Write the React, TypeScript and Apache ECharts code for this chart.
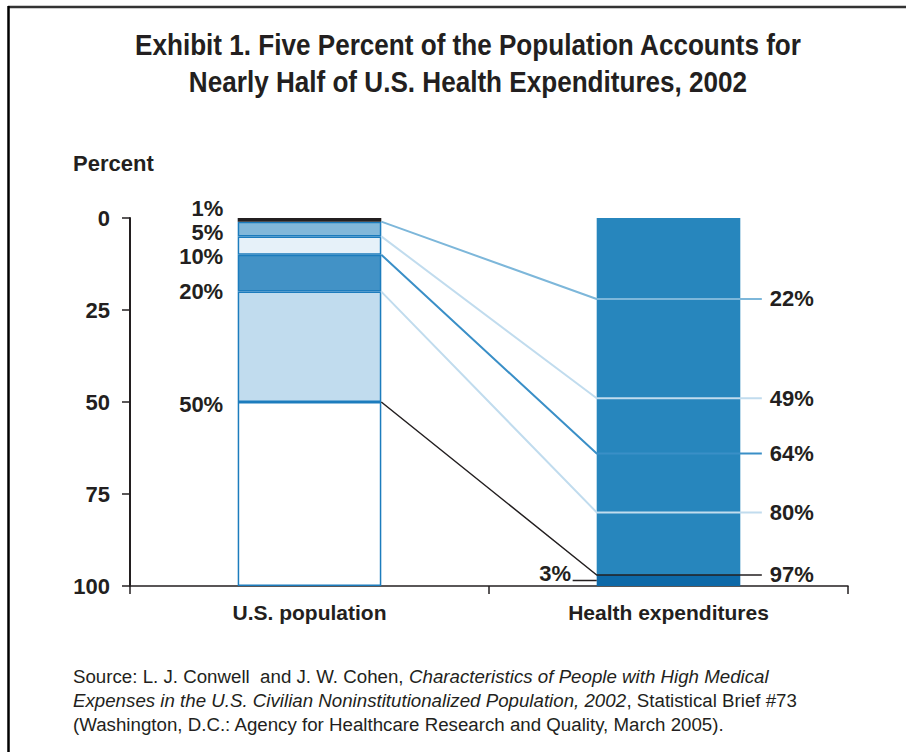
import React, { useEffect, useRef } from "react";
import * as echarts from "echarts";

// ---- data ----
const categories = ["U.S. population", "Health expenditures"];
const yTickValues = [0, 25, 50, 75, 100];
// cumulative population share boundaries (top of bar = 0)
const popBoundaries = [0, 1, 5, 10, 20, 50, 100];
const popBoundaryLabels = ["1%", "5%", "10%", "20%", "50%"];
// cumulative expenditure share reached by each population group
const expBoundaries = [22, 49, 64, 80, 97];
const expBoundaryLabels = ["22%", "49%", "64%", "80%", "97%"];
// expenditure bar segments
const expSegments = [97, 3];
const expSmallLabel = "3%";

const TITLE_LINES = [
  "Exhibit 1. Five Percent of the Population Accounts for",
  "Nearly Half of U.S. Health Expenditures, 2002",
];

// ---- styles ----
const INK = "#231f20";
const FONT = "'Liberation Sans', Arial, sans-serif";
const popColors = ["#231f20", "#82b8da", "#e6f1f9", "#4292c6", "#c1dcee", "#ffffff"];
const popBorder = "#1c7cbd";
const expColors = ["#2786bd", "#0d69a8"];
const connectorColors = ["#7db7da", "#c1dcee", "#3a8fc7", "#c1dcee", "#231f20"];
const connectorWidths = [2, 2, 2, 2, 1.5];
const BAR_FRAC = 0.4; // bar width as a fraction of the category band
const LABEL_LINE_EXT = 0.06; // extension of lines to the right of the right bar (in band units)
const popLabelOffsets = [-13, -4, 2, 0, 2];

export default function App() {
  const ref = useRef<HTMLDivElement>(null);

  useEffect(() => {
    if (!ref.current) return;
    const chart = echarts.init(ref.current, null, { renderer: "svg" });

    const leftEdge0 = 0.5 - BAR_FRAC / 2;
    const rightEdge0 = 0.5 + BAR_FRAC / 2;
    const leftEdge1 = 1.5 - BAR_FRAC / 2;
    const rightEdge1 = 1.5 + BAR_FRAC / 2;

    const popSegments = popBoundaries.slice(1).map((b, i) => b - popBoundaries[i]);

    const series: any[] = [];
    popSegments.forEach((v, i) => {
      series.push({
        type: "bar",
        stack: "all",
        barWidth: BAR_FRAC * 100 + "%",
        data: [v, "-"],
        itemStyle: {
          color: popColors[i],
          borderColor: i === 0 ? INK : popBorder,
          borderWidth: i === 0 ? 0 : 1.5,
        },
        z: i === 0 ? 3 : 2,
      });
    });
    expSegments.forEach((v, i) => {
      series.push({
        type: "bar",
        stack: "all",
        barWidth: BAR_FRAC * 100 + "%",
        data: ["-", v],
        itemStyle: { color: expColors[i], borderWidth: 0 },
      });
    });

    expBoundaries.forEach((e, i) => {
      series.push({
        type: "line",
        xAxisIndex: 1,
        yAxisIndex: 0,
        symbol: "none",
        z: 5,
        lineStyle: { color: connectorColors[i], width: connectorWidths[i] },
        data: [
          [rightEdge0, popBoundaries[i + 1]],
          [leftEdge1, e],
          [rightEdge1 + LABEL_LINE_EXT, e],
        ],
        endLabel: {
          show: true,
          formatter: expBoundaryLabels[i],
          distance: 8,
          color: INK,
          fontFamily: FONT,
          fontWeight: "bold",
          fontSize: 22,
        },
      });
    });

    const smallMid = expBoundaries[expBoundaries.length - 1] + expSegments[1] / 2;
    series.push({
      type: "line",
      xAxisIndex: 1,
      yAxisIndex: 0,
      symbol: "none",
      z: 5,
      lineStyle: { color: INK, width: 1.5 },
      data: [
        [leftEdge1 - 0.067, smallMid],
        [leftEdge1, smallMid],
      ],
    });

    series.push({
      type: "scatter",
      xAxisIndex: 1,
      yAxisIndex: 0,
      symbolSize: 1,
      itemStyle: { color: "rgba(0,0,0,0)", opacity: 1 },
      z: 6,
      data: [
        ...popBoundaryLabels.map((t, i) => ({
          value: [leftEdge0, popBoundaries[i + 1]],
          label: { formatter: t, offset: [0, popLabelOffsets[i]] },
        })),
        {
          value: [leftEdge1 - 0.067, smallMid],
          label: { formatter: expSmallLabel, offset: [0, -7], distance: 1 },
        },
      ],
      label: {
        show: true,
        position: "left",
        distance: 14,
        color: INK,
        fontFamily: FONT,
        fontWeight: "bold",
        fontSize: 22,
      },
    });

    const srcStyle = { fontFamily: FONT, fontSize: 19, fill: INK };

    chart.setOption({
      animation: false,
      grid: { left: 130, right: 58, top: 218, bottom: 166, containLabel: false },
      xAxis: [
        {
          type: "category",
          position: "bottom",
          data: categories,
          axisLine: { onZero: false, lineStyle: { color: INK, width: 1.5 } },
          axisTick: { show: true, length: 8, lineStyle: { color: INK, width: 1.5 } },
          axisLabel: {
            color: INK,
            fontFamily: FONT,
            fontWeight: "bold",
            fontSize: 21,
            margin: 16,
          },
        },
        { type: "value", min: 0, max: 2, show: false },
      ],
      yAxis: {
        type: "value",
        inverse: true,
        min: yTickValues[0],
        max: yTickValues[yTickValues.length - 1],
        interval: yTickValues[1] - yTickValues[0],
        axisLine: { show: true, lineStyle: { color: INK, width: 2 } },
        axisTick: { show: true, length: 8, lineStyle: { color: INK, width: 1.5 } },
        splitLine: { show: false },
        axisLabel: {
          color: INK,
          fontFamily: FONT,
          fontWeight: "bold",
          fontSize: 22,
          margin: 20,
        },
      },
      graphic: [
        { type: "line", shape: { x1: 8, y1: 7, x2: 906, y2: 7 }, style: { stroke: "#333", lineWidth: 2.5 } },
        { type: "line", shape: { x1: 8.5, y1: 6, x2: 8.5, y2: 752 }, style: { stroke: "#000", lineWidth: 2.5 } },
        {
          type: "text",
          x: 468,
          y: 45,
          scaleX: 0.87,
          style: { text: TITLE_LINES[0], fontFamily: FONT, fontWeight: "bold", fontSize: 30, fill: INK, align: "center", verticalAlign: "middle" },
        },
        {
          type: "text",
          x: 468,
          y: 82,
          scaleX: 0.87,
          style: { text: TITLE_LINES[1], fontFamily: FONT, fontWeight: "bold", fontSize: 30, fill: INK, align: "center", verticalAlign: "middle" },
        },
        {
          type: "text",
          x: 73,
          y: 163,
          style: { text: "Percent", fontFamily: FONT, fontWeight: "bold", fontSize: 22, fill: INK, verticalAlign: "middle" },
        },
        {
          type: "text",
          x: 73,
          y: 676,
          scaleX: 0.985,
          style: {
            ...srcStyle,
            verticalAlign: "middle",
            text: "{n|Source: L. J. Conwell  and J. W. Cohen, }{i|Characteristics of People with High Medical}",
            rich: { n: { ...srcStyle }, i: { ...srcStyle, fontStyle: "italic" } },
          },
        },
        {
          type: "text",
          x: 73,
          y: 700,
          scaleX: 0.985,
          style: {
            ...srcStyle,
            verticalAlign: "middle",
            text: "{i|Expenses in the U.S. Civilian Noninstitutionalized Population, 2002}{n|, Statistical Brief #73}",
            rich: { n: { ...srcStyle }, i: { ...srcStyle, fontStyle: "italic" } },
          },
        },
        {
          type: "text",
          x: 73,
          y: 724,
          scaleX: 0.985,
          style: {
            ...srcStyle,
            verticalAlign: "middle",
            text: "(Washington, D.C.: Agency for Healthcare Research and Quality, March 2005).",
          },
        },
      ],
      series,
    });

    return () => chart.dispose();
  }, []);

  return (
    <div
      ref={ref}
      style={{ position: "fixed", left: 0, top: 0, width: 906, height: 752, background: "#fff" }}
    />
  );
}
